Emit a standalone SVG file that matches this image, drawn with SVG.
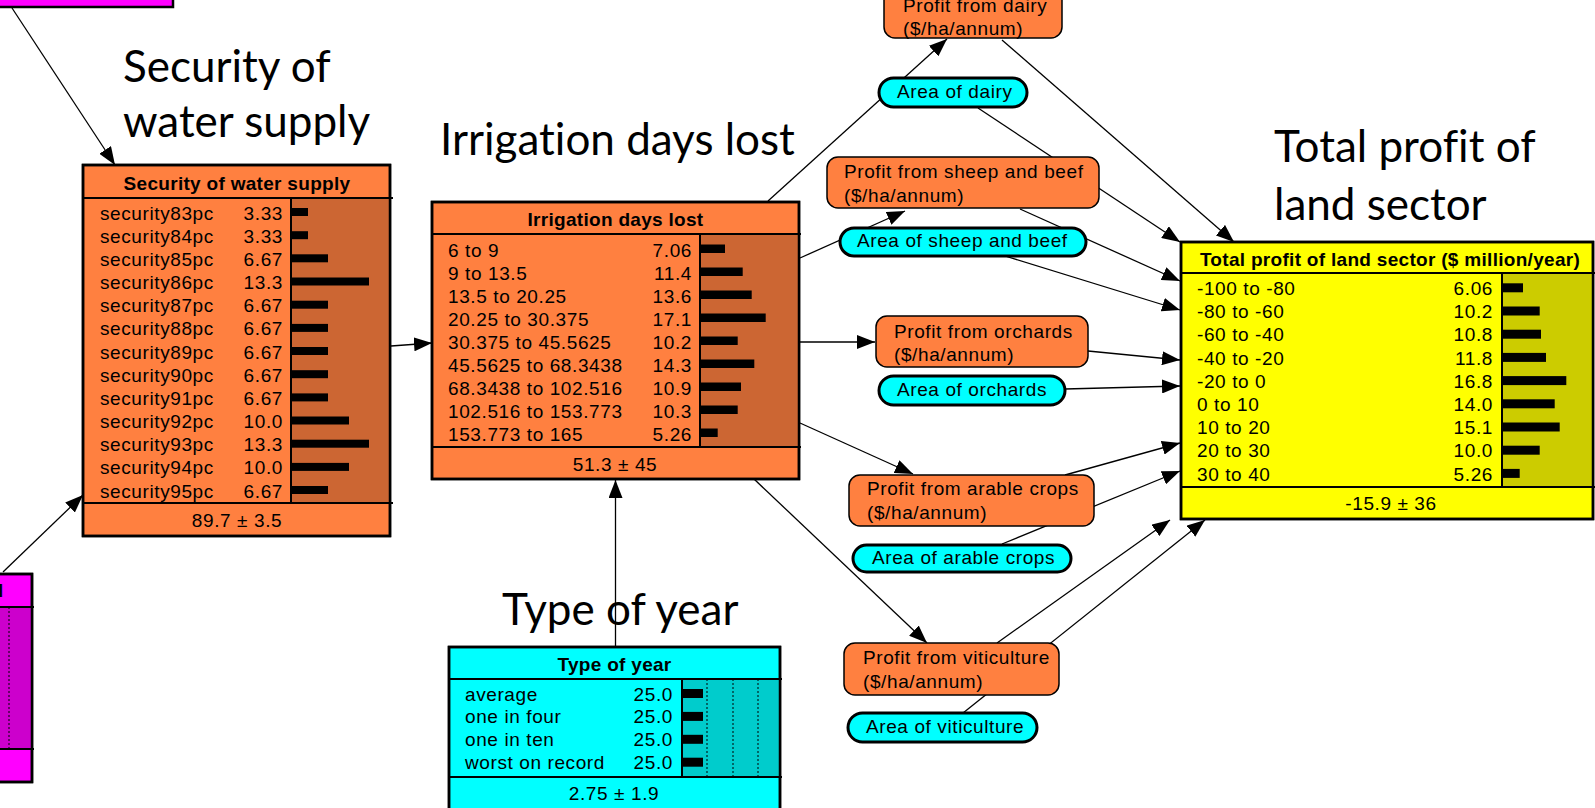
<svg xmlns="http://www.w3.org/2000/svg" width="1595" height="808" viewBox="0 0 1595 808">
<style>
.t{font-family:"Liberation Sans",Arial,sans-serif;font-size:19px;letter-spacing:0.6px;fill:#000}
.h{font-weight:bold;letter-spacing:0.3px;text-anchor:middle}
.r{text-anchor:end}
.c{text-anchor:middle}
.big{font-family:Lato,"Open Sans",sans-serif;font-size:44px;fill:#000;font-variant-ligatures:none;font-feature-settings:"liga" 0}
.box{stroke:#000;stroke-width:2.5}
.dv{stroke:#000;stroke-width:2;fill:none}
.dot{stroke:#000;stroke-width:1;stroke-dasharray:2 2;fill:none}
.pb{fill:#FF8040;stroke:#000;stroke-width:1.5}
.pill{fill:#00FFFF;stroke:#000;stroke-width:3}
.cn{stroke:#000;stroke-width:1.3;fill:none;marker-end:url(#arr)}
.or{fill:#FF8040}.ord{fill:#CC6633}
.cy{fill:#00FFFF}.cyd{fill:#00CCCC}
.mg{fill:#FF00FF}.mgd{fill:#CC00CC}
.ye{fill:#FFFF00}.yed{fill:#CCCC00}
</style>
<defs>
<marker id="arr" markerWidth="19" markerHeight="14" refX="18" refY="7" orient="auto" markerUnits="userSpaceOnUse"><path d="M0,0 L18,7 L0,14 z" fill="#000"/></marker>
</defs>
<rect width="1595" height="808" fill="#fff"/>

<g id="titles">
<text class="big" x="123" y="82">Security of</text>
<text class="big" x="123" y="137">water supply</text>
<text class="big" x="440" y="155">Irrigation days lost</text>
<text class="big" x="502" y="625">Type of year</text>
<text class="big" x="1274" y="162">Total profit of</text>
<text class="big" x="1274" y="220">land sector</text>
</g>

<g id="connectors">
<line class="cn" x1="12" y1="8" x2="115" y2="165"/>
<line class="cn" x1="3" y1="572" x2="83" y2="495"/>
<line class="cn" x1="391" y1="346" x2="432" y2="343"/>
<line class="cn" x1="615.5" y1="647" x2="615.5" y2="480"/>
<line class="cn" x1="768" y1="201" x2="947" y2="39"/>
<line class="cn" x1="800" y1="258" x2="905" y2="211"/>
<line class="cn" x1="800" y1="342" x2="875" y2="342"/>
<line class="cn" x1="800" y1="423" x2="913" y2="474"/>
<line class="cn" x1="754" y1="479" x2="927" y2="643"/>
<line class="cn" x1="1002" y1="40" x2="1234" y2="242"/>
<line class="cn" x1="978" y1="108" x2="1180" y2="242"/>
<line class="cn" x1="1020" y1="209" x2="1180" y2="281"/>
<line class="cn" x1="1005" y1="256" x2="1180" y2="310"/>
<line class="cn" x1="1088" y1="351" x2="1180" y2="360"/>
<line class="cn" x1="1065" y1="389" x2="1180" y2="386"/>
<line class="cn" x1="1065" y1="475" x2="1180" y2="443"/>
<line class="cn" x1="1002" y1="544" x2="1180" y2="471"/>
<line class="cn" x1="997" y1="643" x2="1170" y2="520"/>
<line class="cn" x1="963" y1="713" x2="1205" y2="520"/>
</g>

<g id="node-top-left">
<rect class="mg box" x="-10" y="-10" width="183" height="17"/>
</g>

<g id="node-bottom-left">
<rect class="mg box" x="-10" y="574" width="42" height="208"/>
<rect class="mgd" x="-10" y="607" width="42" height="142"/>
<line class="dot" x1="9" y1="607" x2="9" y2="749"/>
<line class="dv" x1="-10" y1="607" x2="34" y2="607"/>
<line class="dv" x1="-10" y1="749" x2="34" y2="749"/>
<rect x="-10" y="574" width="42" height="208" fill="none" stroke="#000" stroke-width="2.5"/>
<text class="t" x="4" y="597" style="text-anchor:end;font-weight:bold">l</text>
</g>

<g id="node-security">
<rect class="or box" x="83" y="165" width="307" height="371"/>
<rect class="ord" x="291" y="198" width="99" height="305"/>
<line class="dv" x1="83" y1="198" x2="393" y2="198"/>
<line class="dv" x1="83" y1="503" x2="393" y2="503"/>
<line class="dv" x1="291" y1="198" x2="291" y2="503"/>
<rect x="83" y="165" width="307" height="371" fill="none" stroke="#000" stroke-width="2.5"/>
<text class="t h" x="237" y="190">Security of water supply</text>
<g class="t">
<text x="100" y="219.5">security83pc</text><text class="r" x="283" y="219.5">3.33</text>
<text x="100" y="242.7">security84pc</text><text class="r" x="283" y="242.7">3.33</text>
<text x="100" y="265.8">security85pc</text><text class="r" x="283" y="265.8">6.67</text>
<text x="100" y="289">security86pc</text><text class="r" x="283" y="289">13.3</text>
<text x="100" y="312.2">security87pc</text><text class="r" x="283" y="312.2">6.67</text>
<text x="100" y="335.4">security88pc</text><text class="r" x="283" y="335.4">6.67</text>
<text x="100" y="358.5">security89pc</text><text class="r" x="283" y="358.5">6.67</text>
<text x="100" y="381.7">security90pc</text><text class="r" x="283" y="381.7">6.67</text>
<text x="100" y="404.9">security91pc</text><text class="r" x="283" y="404.9">6.67</text>
<text x="100" y="428">security92pc</text><text class="r" x="283" y="428">10.0</text>
<text x="100" y="451.2">security93pc</text><text class="r" x="283" y="451.2">13.3</text>
<text x="100" y="474.4">security94pc</text><text class="r" x="283" y="474.4">10.0</text>
<text x="100" y="497.5">security95pc</text><text class="r" x="283" y="497.5">6.67</text>
</g>
<g fill="#000">
<rect x="291" y="208" width="17" height="8"/>
<rect x="291" y="231.2" width="17" height="8"/>
<rect x="291" y="254.3" width="37" height="8"/>
<rect x="291" y="277.5" width="78" height="8"/>
<rect x="291" y="300.7" width="37" height="8"/>
<rect x="291" y="323.9" width="37" height="8"/>
<rect x="291" y="347" width="37" height="8"/>
<rect x="291" y="370.2" width="37" height="8"/>
<rect x="291" y="393.4" width="37" height="8"/>
<rect x="291" y="416.5" width="58" height="8"/>
<rect x="291" y="439.7" width="78" height="8"/>
<rect x="291" y="462.9" width="58" height="8"/>
<rect x="291" y="486" width="37" height="8"/>
</g>
<text class="t c" x="237" y="526.5">89.7 ± 3.5</text>
</g>

<g id="node-irrigation">
<rect class="or box" x="432" y="202" width="367" height="277"/>
<rect class="ord" x="700" y="234" width="99" height="213"/>
<line class="dv" x1="432" y1="234" x2="801" y2="234"/>
<line class="dv" x1="432" y1="447" x2="801" y2="447"/>
<line class="dv" x1="700" y1="234" x2="700" y2="447"/>
<rect x="432" y="202" width="367" height="277" fill="none" stroke="#000" stroke-width="2.5"/>
<text class="t h" x="615.5" y="225.7">Irrigation days lost</text>
<g class="t">
<text x="448" y="256.5">6 to 9</text><text class="r" x="692" y="256.5">7.06</text>
<text x="448" y="279.5">9 to 13.5</text><text class="r" x="692" y="279.5">11.4</text>
<text x="448" y="302.5">13.5 to 20.25</text><text class="r" x="692" y="302.5">13.6</text>
<text x="448" y="325.5">20.25 to 30.375</text><text class="r" x="692" y="325.5">17.1</text>
<text x="448" y="348.5">30.375 to 45.5625</text><text class="r" x="692" y="348.5">10.2</text>
<text x="448" y="371.5">45.5625 to 68.3438</text><text class="r" x="692" y="371.5">14.3</text>
<text x="448" y="394.5">68.3438 to 102.516</text><text class="r" x="692" y="394.5">10.9</text>
<text x="448" y="417.5">102.516 to 153.773</text><text class="r" x="692" y="417.5">10.3</text>
<text x="448" y="440.5">153.773 to 165</text><text class="r" x="692" y="440.5">5.26</text>
</g>
<g fill="#000">
<rect x="700" y="244.5" width="25" height="8.5"/>
<rect x="700" y="267.5" width="42.7" height="8.5"/>
<rect x="700" y="290.5" width="51.7" height="8.5"/>
<rect x="700" y="313.5" width="65.7" height="8.5"/>
<rect x="700" y="336.5" width="37.7" height="8.5"/>
<rect x="700" y="359.5" width="54.3" height="8.5"/>
<rect x="700" y="382.5" width="41" height="8.5"/>
<rect x="700" y="405.5" width="37.7" height="8.5"/>
<rect x="700" y="428.5" width="17.7" height="8.5"/>
</g>
<text class="t c" x="615" y="470.5">51.3 ± 45</text>
</g>

<g id="node-type-of-year">
<rect class="cy box" x="449" y="647" width="331" height="170"/>
<rect class="cyd" x="682" y="679" width="98" height="98"/>
<line class="dot" x1="707" y1="679" x2="707" y2="777"/>
<line class="dot" x1="733" y1="679" x2="733" y2="777"/>
<line class="dot" x1="758" y1="679" x2="758" y2="777"/>
<line class="dv" x1="449" y1="679" x2="782" y2="679"/>
<line class="dv" x1="449" y1="777" x2="782" y2="777"/>
<line class="dv" x1="682" y1="679" x2="682" y2="777"/>
<rect x="449" y="647" width="331" height="170" fill="none" stroke="#000" stroke-width="2.5"/>
<text class="t h" x="614.5" y="671">Type of year</text>
<g class="t">
<text x="465" y="700.5">average</text><text class="r" x="673" y="700.5">25.0</text>
<text x="465" y="723.4">one in four</text><text class="r" x="673" y="723.4">25.0</text>
<text x="465" y="746.3">one in ten</text><text class="r" x="673" y="746.3">25.0</text>
<text x="465" y="769.2">worst on record</text><text class="r" x="673" y="769.2">25.0</text>
</g>
<g fill="#000">
<rect x="682" y="689" width="21" height="9"/>
<rect x="682" y="711.9" width="21" height="9"/>
<rect x="682" y="734.8" width="21" height="9"/>
<rect x="682" y="757.7" width="21" height="9"/>
</g>
<text class="t c" x="614" y="800">2.75 ± 1.9</text>
</g>

<g id="node-profit-dairy">
<rect class="pb" x="884" y="-13" width="178" height="51" rx="11"/>
<text class="t" x="903" y="12">Profit from dairy</text>
<text class="t" x="903" y="35">($/ha/annum)</text>
</g>
<g id="node-area-dairy">
<rect class="pill" x="879" y="78" width="148" height="29" rx="14.5"/>
<text class="t" x="897" y="98">Area of dairy</text>
</g>
<g id="node-profit-sheep">
<rect class="pb" x="827" y="157" width="272" height="51" rx="11"/>
<text class="t" x="844" y="178">Profit from sheep and beef</text>
<text class="t" x="844" y="201.5">($/ha/annum)</text>
</g>
<g id="node-area-sheep">
<rect class="pill" x="840" y="228" width="246" height="28" rx="14"/>
<text class="t" x="857" y="247">Area of sheep and beef</text>
</g>
<g id="node-profit-orchards">
<rect class="pb" x="876" y="316" width="212" height="51" rx="11"/>
<text class="t" x="894" y="337.5">Profit from orchards</text>
<text class="t" x="894" y="361">($/ha/annum)</text>
</g>
<g id="node-area-orchards">
<rect class="pill" x="879" y="376" width="186" height="29" rx="14.5"/>
<text class="t" x="897" y="396">Area of orchards</text>
</g>
<g id="node-profit-arable">
<rect class="pb" x="849" y="475" width="245" height="51" rx="11"/>
<text class="t" x="867" y="495">Profit from arable crops</text>
<text class="t" x="867" y="519">($/ha/annum)</text>
</g>
<g id="node-area-arable">
<rect class="pill" x="853" y="545" width="218" height="27" rx="13.5"/>
<text class="t" x="872" y="564">Area of arable crops</text>
</g>
<g id="node-profit-viticulture">
<rect class="pb" x="844" y="643" width="215" height="52" rx="11"/>
<text class="t" x="863" y="664">Profit from viticulture</text>
<text class="t" x="863" y="688">($/ha/annum)</text>
</g>
<g id="node-area-viticulture">
<rect class="pill" x="848" y="713" width="189" height="29" rx="14.5"/>
<text class="t" x="866" y="733">Area of viticulture</text>
</g>

<g id="node-total-profit">
<rect class="ye box" x="1181" y="242" width="412" height="277"/>
<rect class="yed" x="1502" y="273" width="91" height="214"/>
<line class="dv" x1="1181" y1="273" x2="1595" y2="273"/>
<line class="dv" x1="1181" y1="487" x2="1595" y2="487"/>
<line class="dv" x1="1502" y1="273" x2="1502" y2="487"/>
<rect x="1181" y="242" width="412" height="277" fill="none" stroke="#000" stroke-width="2.5"/>
<text class="t h" x="1390" y="266">Total profit of land sector ($ million/year)</text>
<g class="t">
<text x="1197" y="295">-100 to -80</text><text class="r" x="1493" y="295">6.06</text>
<text x="1197" y="318.2">-80 to -60</text><text class="r" x="1493" y="318.2">10.2</text>
<text x="1197" y="341.4">-60 to -40</text><text class="r" x="1493" y="341.4">10.8</text>
<text x="1197" y="364.6">-40 to -20</text><text class="r" x="1493" y="364.6">11.8</text>
<text x="1197" y="387.8">-20 to 0</text><text class="r" x="1493" y="387.8">16.8</text>
<text x="1197" y="411">0 to 10</text><text class="r" x="1493" y="411">14.0</text>
<text x="1197" y="434.2">10 to 20</text><text class="r" x="1493" y="434.2">15.1</text>
<text x="1197" y="457.4">20 to 30</text><text class="r" x="1493" y="457.4">10.0</text>
<text x="1197" y="480.6">30 to 40</text><text class="r" x="1493" y="480.6">5.26</text>
</g>
<g fill="#000">
<rect x="1502" y="283.3" width="21" height="9"/>
<rect x="1502" y="306.5" width="37.7" height="9"/>
<rect x="1502" y="329.7" width="39" height="9"/>
<rect x="1502" y="352.9" width="44" height="9"/>
<rect x="1502" y="376.1" width="64.3" height="9"/>
<rect x="1502" y="399.3" width="52.7" height="9"/>
<rect x="1502" y="422.5" width="57.7" height="9"/>
<rect x="1502" y="445.7" width="37.7" height="9"/>
<rect x="1502" y="468.9" width="17.7" height="9"/>
</g>
<text class="t c" x="1391" y="510">-15.9 ± 36</text>
</g>
</svg>
